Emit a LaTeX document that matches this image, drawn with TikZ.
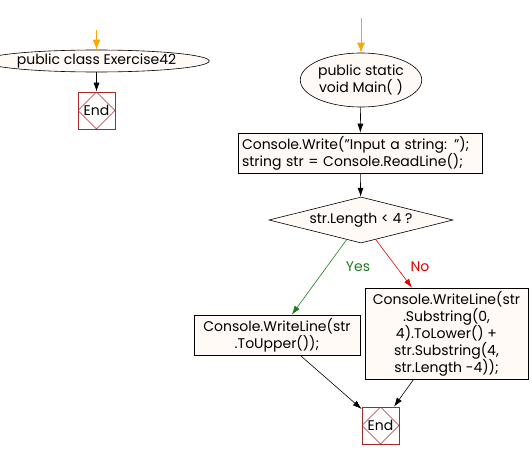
\documentclass[tikz,border=0pt]{standalone}
\usepackage{fontspec}
\setmainfont{Poppins}
\usetikzlibrary{shapes.geometric,arrows.meta}
\definecolor{boxfill}{HTML}{FFFAF5}
\definecolor{endcol}{HTML}{A52A2A}
\definecolor{startcol}{HTML}{FFA500}
\definecolor{yescol}{HTML}{1E7B1E}
\definecolor{nocol}{HTML}{E00000}
\tikzset{
  every node/.style={font=\fontsize{14}{17}\selectfont, inner sep=0pt},
  arr/.style={draw=black, line width=0.6pt, -{Latex[length=9pt,width=6pt]}},
  startarr/.style={draw=startcol, line width=0.8pt, -{Latex[length=10pt,width=8pt]}},
  ovalbox/.style={ellipse, draw, fill=boxfill, line width=0.6pt},
  procbox/.style={rectangle, draw, fill=boxfill, line width=0.6pt},
  decbox/.style={diamond, draw, fill=boxfill, line width=0.6pt},
  endbox/.style={rectangle, draw=endcol, line width=0.7pt, minimum width=37pt, minimum height=37pt,
    path picture={\draw[endcol, line width=0.5pt] (path picture bounding box.north) -- (path picture bounding box.east) -- (path picture bounding box.south) -- (path picture bounding box.west) -- cycle;}},
}
\begin{document}
\begin{tikzpicture}[x=1pt,y=-1pt]
\useasboundingbox (0,0) rectangle (532,460);
% left part
\coordinate (s1) at (96.5,30);
\node[ovalbox, minimum width=183pt, minimum height=22pt] (e1) at (96.5,61) {public class Exercise42};
\node[endbox] (end1) at (96.5,110.5) {End};
\draw[startarr] (s1) -- (e1);
\draw[arr] (e1) -- (end1);
% right part
\coordinate (s2) at (361,18);
\node[ovalbox, minimum width=114pt, minimum height=54pt, align=center] (e2) at (361,80) {public static\\void Main( )};
\node[procbox, minimum width=244pt, minimum height=40pt, align=left, text width=236pt] (b1) at (360,153) {Console.Write(\symbol{34}Input a string: \symbol{34});\\string str = Console.ReadLine();};
\node[decbox, minimum width=184pt, minimum height=46pt, label={center:str.Length < 4 ?}] (d) at (361,220) {};
\node[procbox, minimum width=166pt, minimum height=40pt, align=center] (b2) at (277,335) {Console.WriteLine(str\\.ToUpper());};
\node[procbox, minimum width=163pt, minimum height=91pt, align=center] (b3) at (446.5,333.5) {Console.WriteLine(str\\.Substring(0,\\4).ToLower() +\\str.Substring(4,\\str.Length -4));};
\node[endbox] (end2) at (380.5,425.5) {End};
\draw[startarr] (s2) -- (e2);
\draw[arr] (e2) -- (b1);
\draw[arr] (b1) -- (d);
\draw[arr, draw=yescol, color=yescol] (d) -- (b2);
\draw[arr, draw=nocol, color=nocol] (d) -- (b3);
\node[text=yescol] (yes) at (358,267) {Yes};
\node[text=nocol] (no) at (420,267) {No};
\draw[arr] (b2) -- (end2);
\draw[arr] (b3) -- (end2);
\end{tikzpicture}
\end{document}
